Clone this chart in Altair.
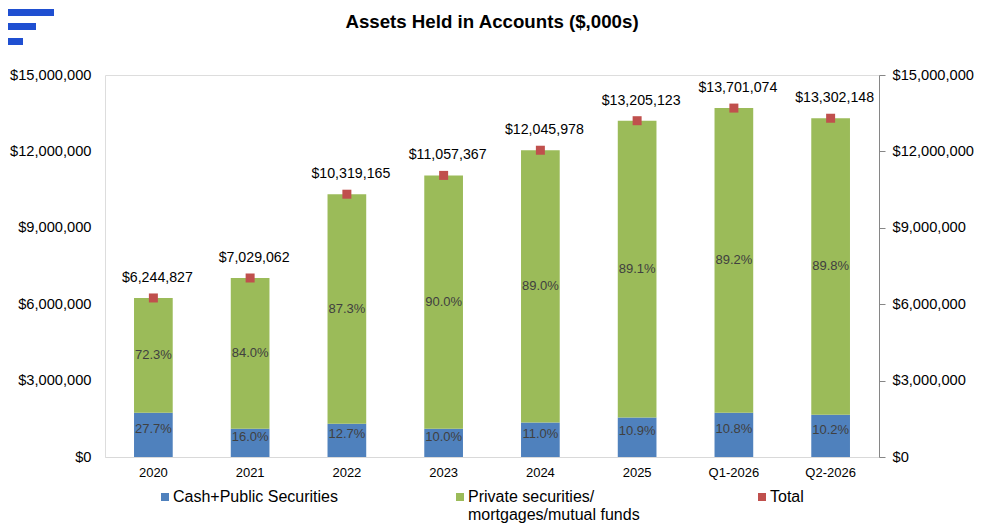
import altair as alt
import pandas as pd

categories = ["2020", "2021", "2022", "2023", "2024", "2025", "Q1-2026", "Q2-2026"]
totals = [6244827, 7029062, 10319165, 11057367, 12045978, 13205123, 13701074, 13302148]
cash = [1740000, 1110000, 1310000, 1110000, 1350000, 1550000, 1740000, 1660000]
cash_pct = ["27.7%", "16.0%", "12.7%", "10.0%", "11.0%", "10.9%", "10.8%", "10.2%"]
private_pct = ["72.3%", "84.0%", "87.3%", "90.0%", "89.0%", "89.1%", "89.2%", "89.8%"]
total_labels = ["$6,244,827", "$7,029,062", "$10,319,165", "$11,057,367",
                "$12,045,978", "$13,205,123", "$13,701,074", "$13,302,148"]
y_ticks = [0, 3000000, 6000000, 9000000, 12000000, 15000000]

S_CASH = "Cash+Public Securities"
S_PRIV = "Private securities/ mortgages/mutual funds"
S_TOT = "Total"

private = [t - c for t, c in zip(totals, cash)]

bars_df = pd.DataFrame(
    [{"cat": k, "series": S_CASH, "value": c, "ord": 0} for k, c in zip(categories, cash)]
    + [{"cat": k, "series": S_PRIV, "value": p, "ord": 1} for k, p in zip(categories, private)]
)
cash_lab = pd.DataFrame({"cat": categories, "mid": [c / 2 for c in cash], "pct": cash_pct})
priv_lab = pd.DataFrame({"cat": categories, "mid": [c + p / 2 for c, p in zip(cash, private)],
                         "pct": private_pct})
tot_df = pd.DataFrame({"cat": categories, "total": totals, "label": total_labels,
                       "series": [S_TOT] * len(categories)})

FONT = "Liberation Sans"
ydom = alt.Scale(domain=[0, 15000000], nice=False, zero=True)

x_enc = alt.X(
    "cat:N", sort=categories, title=None,
    scale=alt.Scale(paddingInner=0.6, paddingOuter=0.3),
    axis=alt.Axis(labelAngle=0, ticks=False, domainColor="#D9D9D9", domainWidth=1,
                  labelFontSize=13, labelColor="#000000", labelPadding=9, labelFont=FONT),
)

legend_expr = (
    "datum.label == '" + S_PRIV + "' ? ['Private securities/', 'mortgages/mutual funds'] "
    ": [datum.label, '']"
)

color_enc = alt.Color(
    "series:N",
    scale=alt.Scale(domain=[S_CASH, S_PRIV, S_TOT], range=["#4F81BD", "#9BBB59", "#C0504D"]),
    legend=alt.Legend(
        title=None, orient="none", direction="horizontal", legendX=52, legendY=414,
        symbolType="square", symbolSize=64, symbolStrokeWidth=0, labelFontSize=16,
        labelFont=FONT, labelColor="#000000", labelOffset=0, columnPadding=114,
        labelLimit=400, padding=0, labelExpr=legend_expr,
    ),
)

bars = alt.Chart(bars_df).mark_bar().encode(
    x=x_enc,
    y=alt.Y("value:Q", stack="zero", scale=ydom, title=None,
            axis=alt.Axis(values=y_ticks, format="$,.0f", domain=False, ticks=False, grid=False,
                          labelFontSize=14.67, labelColor="#000000", labelPadding=14,
                          labelFont=FONT)),
    color=color_enc,
    order=alt.Order("ord:Q"),
)

cash_text = alt.Chart(cash_lab).mark_text(
    font=FONT, fontSize=13, color="#404040", dy=-6
).encode(x=x_enc, y=alt.Y("mid:Q", scale=ydom), text="pct:N")

priv_text = alt.Chart(priv_lab).mark_text(
    font=FONT, fontSize=13, color="#404040"
).encode(x=x_enc, y=alt.Y("mid:Q", scale=ydom), text="pct:N")

squares = alt.Chart(tot_df).mark_square(size=81, opacity=1).encode(
    x=x_enc, y=alt.Y("total:Q", scale=ydom), color=color_enc
)

tot_text = alt.Chart(tot_df).mark_text(
    font=FONT, fontSize=14.2, color="#000000", baseline="alphabetic", dy=-16, dx=4
).encode(x=x_enc, y=alt.Y("total:Q", scale=ydom), text="label:N")

logo_df = pd.DataFrame({"k": [0]})
LOGO = "#1F4FD1"
logo1 = alt.Chart(logo_df).mark_rect(color=LOGO).encode(
    x=alt.value(-98), x2=alt.value(-51), y=alt.value(-66), y2=alt.value(-59))
logo2 = alt.Chart(logo_df).mark_rect(color=LOGO).encode(
    x=alt.value(-98), x2=alt.value(-69), y=alt.value(-52), y2=alt.value(-45))
logo3 = alt.Chart(logo_df).mark_rect(color=LOGO).encode(
    x=alt.value(-98), x2=alt.value(-82), y=alt.value(-37), y2=alt.value(-30))

inner = alt.layer(bars, cash_text, priv_text, squares, tot_text, logo1, logo2, logo3)

right_axis = alt.Chart(tot_df).mark_point(opacity=0).encode(
    x=x_enc,
    y=alt.Y("total:Q", scale=ydom, title=None,
            axis=alt.Axis(orient="right", values=y_ticks, format="$,.0f", grid=False,
                          domain=True, domainColor="#868686", ticks=True, tickColor="#868686",
                          tickSize=6, labelFontSize=14.67, labelColor="#000000",
                          labelPadding=7, labelFont=FONT)),
)

chart = alt.layer(inner, right_axis).resolve_scale(y="independent").properties(
    width=774, height=382,
    padding={"left": 97, "top": 67, "right": 96, "bottom": 66},
    autosize=alt.AutoSizeParams(type="none"),
    title=alt.TitleParams("Assets Held in Accounts ($,000s)", font=FONT, fontSize=18.7,
                          fontWeight="bold", color="#000000", anchor="middle", offset=-23),
).configure_view(stroke=None).configure(font=FONT)

chart.save("out.html", embed_options={"renderer": "svg", "actions": False})
